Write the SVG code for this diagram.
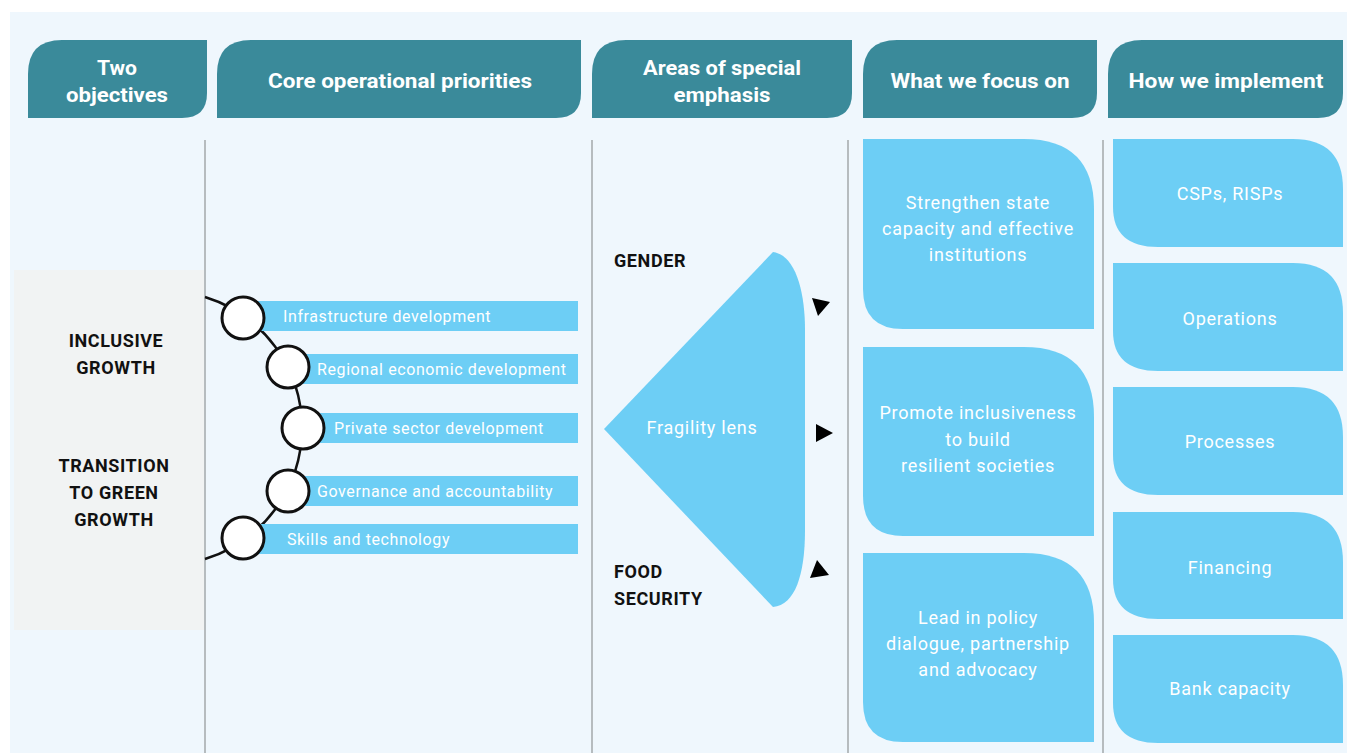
<svg xmlns="http://www.w3.org/2000/svg" width="1347" height="753" viewBox="0 0 1347 753">
<style>
.hdr{fill:#3a8a9a}
.ht{font-family:Roboto,"Noto Sans",sans-serif;font-weight:700;font-size:21px;fill:#fff;text-anchor:middle}
.lt{font-family:Roboto,"Noto Sans",sans-serif;font-weight:700;font-size:18px;letter-spacing:0.6px;fill:#111;text-anchor:middle}
.et{font-family:Roboto,"Noto Sans",sans-serif;font-weight:700;font-size:18px;letter-spacing:0.6px;fill:#111}
.bar{fill:#6dcef5}
.bt{font-family:Roboto,"Noto Sans",sans-serif;font-size:16px;letter-spacing:0.6px;fill:#fff}
.box{fill:#6dcef5}
.xt{font-family:Roboto,"Noto Sans",sans-serif;font-size:18px;letter-spacing:0.75px;fill:#fff;text-anchor:middle}
.div{stroke:#a3a8aa;stroke-width:1.5;fill:none}
.node{fill:#fff;stroke:#111;stroke-width:3}
</style>
<rect x="0" y="0" width="1347" height="753" fill="#fff"/>
<rect x="10" y="12" width="1337" height="741" fill="#eff7fd"/>
<rect x="14" y="270" width="190" height="360" fill="#f1f3f3"/>

<g id="dividers">
<line class="div" x1="205" y1="140" x2="205" y2="753"/>
<line class="div" x1="592" y1="140" x2="592" y2="753"/>
<line class="div" x1="848" y1="140" x2="848" y2="753"/>
<line class="div" x1="1103" y1="140" x2="1103" y2="753"/>
</g>

<g id="header-objectives">
<path class="hdr" d="M28,118 L28,74 Q28,40 62,40 L207,40 L207,93 Q207,118 182,118 Z"/>
<text class="ht" x="117" y="75" textLength="40" lengthAdjust="spacingAndGlyphs">Two</text>
<text class="ht" x="117" y="102" textLength="102" lengthAdjust="spacingAndGlyphs">objectives</text>
</g>
<g id="header-priorities">
<path class="hdr" d="M217,118 L217,74 Q217,40 251,40 L581,40 L581,93 Q581,118 556,118 Z"/>
<text class="ht" x="400" y="88" textLength="264" lengthAdjust="spacingAndGlyphs">Core operational priorities</text>
</g>
<g id="header-emphasis">
<path class="hdr" d="M592,118 L592,74 Q592,40 626,40 L852,40 L852,93 Q852,118 827,118 Z"/>
<text class="ht" x="722" y="75" textLength="158" lengthAdjust="spacingAndGlyphs">Areas of special</text>
<text class="ht" x="722" y="102" textLength="97" lengthAdjust="spacingAndGlyphs">emphasis</text>
</g>
<g id="header-focus">
<path class="hdr" d="M863,118 L863,74 Q863,40 897,40 L1097,40 L1097,93 Q1097,118 1072,118 Z"/>
<text class="ht" x="980" y="88" textLength="179" lengthAdjust="spacingAndGlyphs">What we focus on</text>
</g>
<g id="header-implement">
<path class="hdr" d="M1108,118 L1108,74 Q1108,40 1142,40 L1343,40 L1343,93 Q1343,118 1318,118 Z"/>
<text class="ht" x="1226" y="88" textLength="195" lengthAdjust="spacingAndGlyphs">How we implement</text>
</g>

<g id="objectives">
<text class="lt" x="116" y="347">INCLUSIVE</text>
<text class="lt" x="116" y="374">GROWTH</text>
<text class="lt" x="114" y="472">TRANSITION</text>
<text class="lt" x="114" y="499">TO GREEN</text>
<text class="lt" x="114" y="526">GROWTH</text>
</g>

<g id="connectors">
<path d="M205,297 A137,137 0 0 1 205,559" fill="none" stroke="#111" stroke-width="2.5"/>
<polygon points="812,298 830,302 818,316" fill="#000"/>
<polygon points="816,424 833,433 816,442" fill="#000"/>
<polygon points="817,560 829,575 810,578" fill="#000"/>
</g>

<g id="p1">
<rect class="bar" x="258" y="301" width="320" height="30"/>
<circle class="node" cx="243" cy="318" r="21"/>
<text class="bt" x="283" y="322">Infrastructure development</text>
</g>
<g id="p2">
<rect class="bar" x="300" y="354" width="278" height="30"/>
<circle class="node" cx="288" cy="367" r="21"/>
<text class="bt" x="317" y="375">Regional economic development</text>
</g>
<g id="p3">
<rect class="bar" x="315" y="413" width="263" height="30"/>
<circle class="node" cx="303" cy="428" r="21"/>
<text class="bt" x="334" y="434">Private sector development</text>
</g>
<g id="p4">
<rect class="bar" x="300" y="476" width="278" height="30"/>
<circle class="node" cx="288" cy="491" r="21"/>
<text class="bt" x="317" y="497">Governance and accountability</text>
</g>
<g id="p5">
<rect class="bar" x="258" y="524" width="320" height="30"/>
<circle class="node" cx="243" cy="538" r="21"/>
<text class="bt" x="287" y="545">Skills and technology</text>
</g>

<g id="fragility">
<path d="M604,429 L773,252 C795,255 805,290 805,330 L805,530 C805,575 795,605 773,607 Z" fill="#6dcef5"/>
<text class="xt" x="702" y="434">Fragility lens</text>
</g>
<g id="gender"><text class="et" x="614" y="267">GENDER</text></g>
<g id="food"><text class="et" x="614" y="578">FOOD</text><text class="et" x="614" y="605">SECURITY</text></g>

<g id="f1">
<path class="box" d="M863,139 L1024,139 Q1094,139 1094,209 L1094,329 L903,329 Q863,329 863,289 Z"/>
<text class="xt" x="978" y="209">Strengthen state</text>
<text class="xt" x="978" y="235">capacity and effective</text>
<text class="xt" x="978" y="261">institutions</text>
</g>
<g id="f2">
<path class="box" d="M863,347 L1024,347 Q1094,347 1094,417 L1094,536 L903,536 Q863,536 863,496 Z"/>
<text class="xt" x="978" y="419">Promote inclusiveness</text>
<text class="xt" x="978" y="446">to build</text>
<text class="xt" x="978" y="472">resilient societies</text>
</g>
<g id="f3">
<path class="box" d="M863,553 L1024,553 Q1094,553 1094,623 L1094,742 L903,742 Q863,742 863,702 Z"/>
<text class="xt" x="978" y="624">Lead in policy</text>
<text class="xt" x="978" y="650">dialogue, partnership</text>
<text class="xt" x="978" y="676">and advocacy</text>
</g>

<g id="i1">
<path class="box" d="M1113,139 L1293,139 Q1343,139 1343,189 L1343,247 L1158,247 Q1113,247 1113,207 Z"/>
<text class="xt" x="1230" y="200">CSPs, RISPs</text>
</g>
<g id="i2">
<path class="box" d="M1113,263 L1293,263 Q1343,263 1343,313 L1343,371 L1158,371 Q1113,371 1113,331 Z"/>
<text class="xt" x="1230" y="325">Operations</text>
</g>
<g id="i3">
<path class="box" d="M1113,387 L1293,387 Q1343,387 1343,437 L1343,495 L1158,495 Q1113,495 1113,455 Z"/>
<text class="xt" x="1230" y="448">Processes</text>
</g>
<g id="i4">
<path class="box" d="M1113,512 L1293,512 Q1343,512 1343,562 L1343,619 L1158,619 Q1113,619 1113,579 Z"/>
<text class="xt" x="1230" y="574">Financing</text>
</g>
<g id="i5">
<path class="box" d="M1113,635 L1293,635 Q1343,635 1343,685 L1343,743 L1158,743 Q1113,743 1113,703 Z"/>
<text class="xt" x="1230" y="695">Bank capacity</text>
</g>
</svg>
